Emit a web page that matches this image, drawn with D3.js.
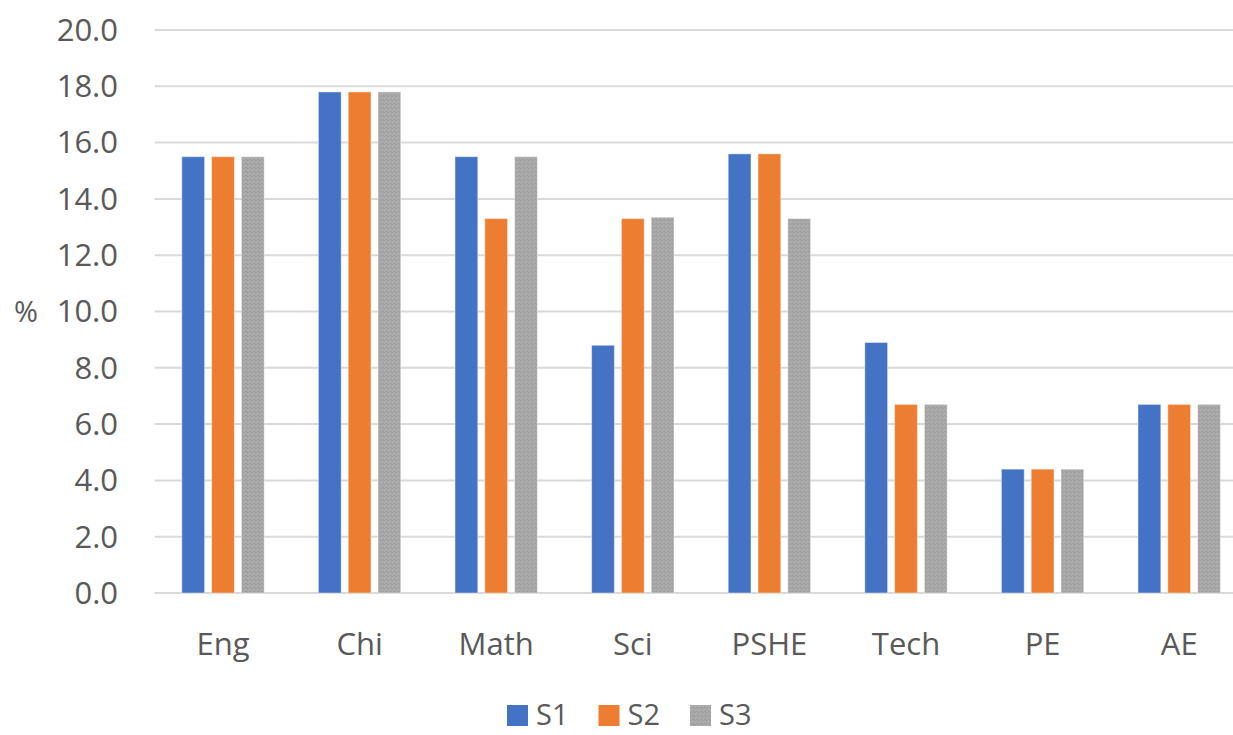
<!DOCTYPE html>
<html>
<head>
<meta charset="utf-8">
<script src="https://cdn.jsdelivr.net/npm/d3@7"></script>
<style>
  html, body { margin: 0; padding: 0; background: #fff; overflow: hidden; }
  svg { display: block; }
  text { font-family: "Open Sans", "Noto Sans", sans-serif; fill: #595959; }
</style>
</head>
<body>
<svg id="chart" width="1233" height="735"></svg>
<script>
const categories = ["Eng", "Chi", "Math", "Sci", "PSHE", "Tech", "PE", "AE"];
const seriesNames = ["S1", "S2", "S3"];
const s1 = [15.5, 17.8, 15.5, 8.8, 15.6, 8.9, 4.4, 6.7];
const s2 = [15.5, 17.8, 13.3, 13.3, 15.6, 6.7, 4.4, 6.7];
const s3 = [15.5, 17.8, 15.5, 13.35, 13.3, 6.7, 4.4, 6.7];
const yTicks = [0, 2, 4, 6, 8, 10, 12, 14, 16, 18, 20];
const yLabel = "%";
const colors = ["#4472C4", "#ED7D31", "url(#grayTex)"];

const seriesValues = [s1, s2, s3];
const svg = d3.select("#chart");

// texture for the gray series
const defs = svg.append("defs");
const pat = defs.append("pattern").attr("id", "grayTex")
  .attr("width", 4).attr("height", 4).attr("patternUnits", "userSpaceOnUse");
pat.append("rect").attr("width", 4).attr("height", 4).attr("fill", "#A7A7A7");
[[0,0,"#9A9A9A"],[2,1,"#B2B2B2"],[1,2,"#B0B0B0"],[3,3,"#9C9C9C"],[2,3,"#A0A0A0"],[0,2,"#AEAEAE"]]
  .forEach(([x,y,c]) => pat.append("rect").attr("x", x).attr("y", y).attr("width", 1).attr("height", 1).attr("fill", c));

const left = 154.7, step = 136.6;
const x0 = d3.scaleBand().domain(categories).range([left, left + step * categories.length]).padding(0);
const pitch = 29.8;
const x1 = d3.scaleBand().domain(seriesNames)
  .range([-pitch * 1.5, pitch * 1.5]).paddingInner(0.235).paddingOuter(0.1175);
const y = d3.scaleLinear().domain([0, 20]).range([593, 30]);

// gridlines
svg.append("g").selectAll("line").data(yTicks).join("line")
  .attr("x1", left).attr("x2", 1233)
  .attr("y1", d => y(d)).attr("y2", d => y(d))
  .attr("stroke", "#D9D9D9").attr("stroke-width", 2);

// y tick labels
svg.append("g").selectAll("text").data(yTicks).join("text")
  .attr("x", 118).attr("y", d => y(d)).attr("dy", "0.35em")
  .attr("text-anchor", "end").attr("font-size", 31)
  .text(d => d.toFixed(1));

svg.append("text").attr("x", 26).attr("y", y(10)).attr("dy", "0.35em")
  .attr("text-anchor", "middle").attr("font-size", 29).text(yLabel);

// bars
const groups = svg.append("g").selectAll("g").data(categories).join("g")
  .attr("transform", c => `translate(${x0(c) + x0.bandwidth() / 2},0)`);
groups.selectAll("rect").data((c, i) => seriesNames.map((s, j) => ({ s, j, v: seriesValues[j][i] })))
  .join("rect")
  .attr("x", d => x1(d.s)).attr("width", x1.bandwidth())
  .attr("y", d => y(d.v)).attr("height", d => y(0) - y(d.v))
  .attr("fill", d => colors[d.j])
  .attr("stroke", "rgba(255,255,255,0.45)").attr("stroke-width", 1);

// category labels
svg.append("g").selectAll("text").data(categories).join("text")
  .attr("x", c => x0(c) + x0.bandwidth() / 2).attr("y", 655)
  .attr("text-anchor", "middle").attr("font-size", 31)
  .text(c => c);

// legend
const legendX = [507, 598.5, 690];
const lg = svg.append("g").selectAll("g").data(seriesNames).join("g")
  .attr("transform", (s, i) => `translate(${legendX[i]},0)`);
lg.append("rect").attr("x", 0).attr("y", 705).attr("width", 21).attr("height", 21)
  .attr("fill", (s, i) => colors[i]);
lg.append("text").attr("x", 29).attr("y", 725).attr("font-size", 29).text(s => s);
</script>
</body>
</html>
